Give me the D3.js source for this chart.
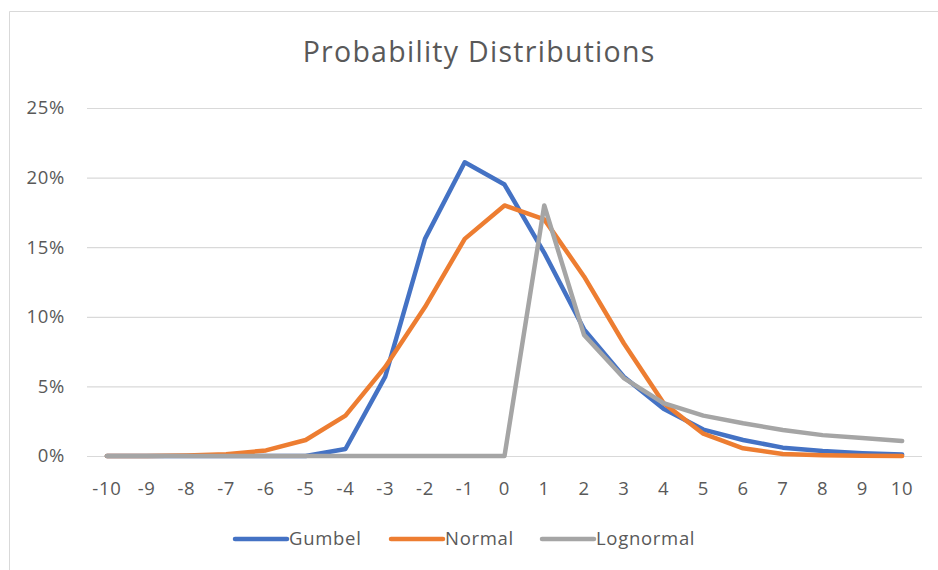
<!DOCTYPE html>
<html>
<head>
<meta charset="utf-8">
<script src="https://cdn.jsdelivr.net/npm/d3@7"></script>
<style>
  html, body { margin: 0; padding: 0; background: #fff; }
  svg { display: block; }
  text { font-family: "Open Sans", "Noto Sans", sans-serif; fill: #595959; }
</style>
</head>
<body>
<svg id="chart" width="938" height="570"></svg>
<script>
const categories = [-10,-9,-8,-7,-6,-5,-4,-3,-2,-1,0,1,2,3,4,5,6,7,8,9,10];
const gumbel    = [0,0,0,0,0,0,0.5,5.7,15.6,21.1,19.5,14.6,9.1,5.7,3.4,1.9,1.15,0.6,0.36,0.2,0.1];
const normal    = [0,0,0.03,0.12,0.4,1.15,2.9,6.4,10.7,15.6,18.0,17.0,12.9,8.1,3.8,1.6,0.55,0.15,0.05,0.01,0];
const lognormal = [0,0,0,0,0,0,0,0,0,0,0,18.0,8.7,5.6,3.8,2.9,2.35,1.87,1.5,1.3,1.08];
const yTicks = [0,5,10,15,20,25];
const seriesNames = ["Gumbel","Normal","Lognormal"];
const seriesColors = ["#4472C4","#ED7D31","#A5A5A5"];
const title = "Probability Distributions";

const svg = d3.select("#chart");
const plot = {left: 87, right: 922, top: 108, bottom: 456};
const labelFont = "18.5px";
const labelSpacing = "0.7px";

// chart border
svg.append("path")
  .attr("d", `M9.5,570 L9.5,11.5 L938,11.5`)
  .attr("fill","none").attr("stroke","#d9d9d9").attr("stroke-width",1);

const x = d3.scaleBand().domain(categories).range([plot.left, plot.right]);
const y = d3.scaleLinear().domain([0,25]).range([plot.bottom, plot.top]);
const cx = d => x(d) + x.bandwidth()/2;

// gridlines + y labels
const yAxis = d3.axisLeft(y).tickValues(yTicks).tickFormat(d => d + "%")
  .tickSize(-(plot.right - plot.left)).tickPadding(22);
const gy = svg.append("g").attr("transform", `translate(${plot.left},0)`).call(yAxis);
gy.select(".domain").remove();
gy.selectAll(".tick line").attr("stroke","#d9d9d9").attr("stroke-width",1.2);
gy.selectAll(".tick text").attr("font-size",labelFont).attr("fill","#595959")
  .attr("letter-spacing", labelSpacing)
  .attr("font-family","'Open Sans', sans-serif");

// x axis labels
const xAxis = d3.axisBottom(x).tickSize(0).tickPadding(0);
const gx = svg.append("g").attr("transform", `translate(0,${plot.bottom})`).call(xAxis);
gx.select(".domain").remove();
gx.selectAll(".tick text").attr("font-size",labelFont).attr("fill","#595959")
  .attr("letter-spacing", labelSpacing)
  .attr("font-family","'Open Sans', sans-serif")
  .attr("y", 39).attr("dy", 0);

// lines
const line = d3.line().x((d,i) => cx(categories[i])).y(d => y(d));
[gumbel, normal, lognormal].forEach((s, k) => {
  svg.append("path").datum(s)
    .attr("d", line)
    .attr("fill","none")
    .attr("stroke", seriesColors[k])
    .attr("stroke-width", 4.5)
    .attr("stroke-linejoin","round")
    .attr("stroke-linecap","round");
});

// title
const t = svg.append("text").attr("x", 478.5).attr("y", 62)
  .attr("text-anchor","middle").attr("font-size","28.5px").attr("fill","#595959")
  .text(title);
const w = t.node().getComputedTextLength();
const ls = Math.max(0, (353 - w) / title.length);
t.attr("letter-spacing", ls + "px").attr("x", 478.5 + ls / 2);

// legend
const legendX = [235, 391, 542];
const legend = svg.append("g");
seriesNames.forEach((n, k) => {
  legend.append("line")
    .attr("x1", legendX[k]).attr("x2", legendX[k] + 52)
    .attr("y1", 539).attr("y2", 539)
    .attr("stroke", seriesColors[k]).attr("stroke-width", 4.5).attr("stroke-linecap","round");
  legend.append("text")
    .attr("x", legendX[k] + 54).attr("y", 539).attr("dy","0.35em")
    .attr("font-size",labelFont).attr("letter-spacing", labelSpacing)
    .attr("fill","#595959").text(n);
});
</script>
</body>
</html>
